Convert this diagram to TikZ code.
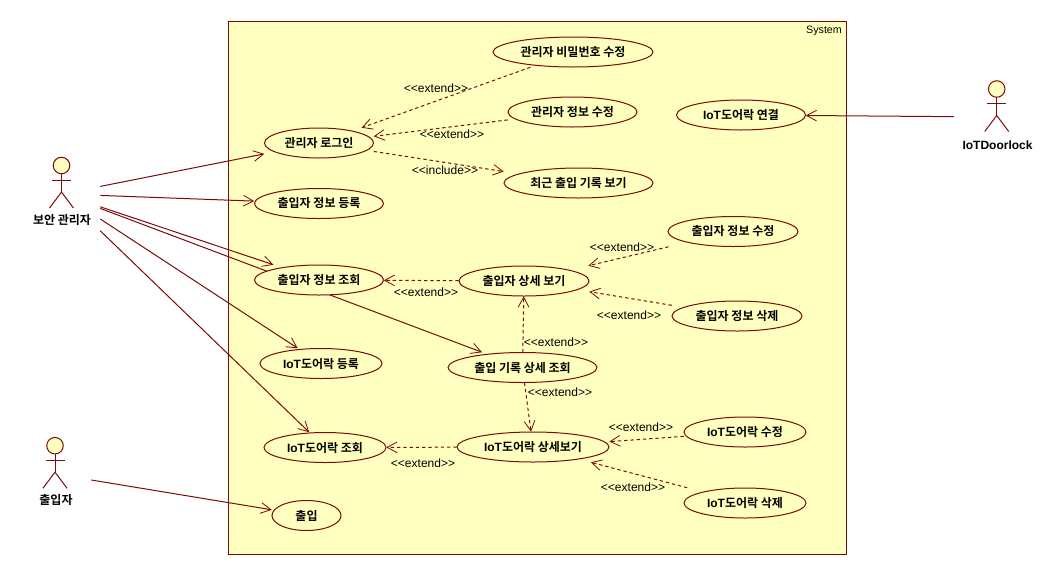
\documentclass[tikz,border=0pt]{standalone}
\usepackage{fontspec}
\setmainfont{Liberation Sans}
\newfontfamily\kr{Noto Sans CJK KR}[BoldFont={Noto Sans CJK KR Bold}]
\usetikzlibrary{shapes.geometric,arrows.meta,backgrounds}
\definecolor{umlline}{HTML}{7B0A0A}
\definecolor{umlfill}{HTML}{FFFFBF}
\newcommand{\K}[1]{{\kr\bfseries #1}}
\tikzset{
  usecase/.style={ellipse,draw=umlline,fill=umlfill,line width=.75pt,inner sep=0pt,minimum height=22.5pt,font=\fontsize{9pt}{11pt}\bfseries},
  caseport/.style={rectangle,inner sep=0pt,minimum height=22.5pt},
  sysbox/.style={rectangle,draw=umlline,fill=umlfill,line width=.75pt,inner sep=0pt,minimum width=463.5pt,minimum height=399.75pt},
  actorport/.style={rectangle,inner sep=0pt,minimum height=90pt},
  actorlabel/.style={font=\fontsize{9pt}{11pt}\bfseries,inner sep=0pt},
  stereo/.style={font=\fontsize{9pt}{11pt}\selectfont,inner sep=0pt},
  tiplabel/.style={font=\fontsize{8pt}{10pt}\selectfont,inner sep=0pt},
  assoc/.style={draw=umlline,line width=.75pt,-{Straight Barb[length=7.5pt,width=8pt,line width=.6pt]}},
  dep/.style={assoc,dash pattern=on 2.5pt off 2.2pt},
  actorline/.style={draw=umlline,line width=.75pt},
  actorhead/.style={draw=umlline,fill=umlfill,line width=.75pt},
}
\newcommand{\actorfig}[2]{%
  \draw[actorhead] (#1,#2) circle (6.2pt);
  \draw[actorline] (#1,#2+8.3) -- (#1,#2+26.5);
  \draw[actorline] (#1-9.5,#2+14.5) -- (#1+9.5,#2+14.5);
  \draw[actorline] (#1-12,#2+42.5) -- (#1,#2+26.5) -- (#1+12,#2+42.5);
}
% name, x, y, width in pt, text: drawn ellipse plus the invisible box connectors end on
\newcommand{\usecasenode}[5]{%
  \node[usecase,minimum width=#4] (#1-shape) at (#2,#3) {#5};
  \node[caseport,minimum width=#4] (#1) at (#2,#3) {};
}
\begin{document}
\begin{tikzpicture}[x=0.75pt,y=-0.75pt]
\useasboundingbox (0,0) rectangle (1062,575);

% use cases
\usecasenode{pw}{573}{52}{120pt}{\K{관리자 비밀번호 수정}}
\usecasenode{adminedit}{572.5}{112}{96.75pt}{\K{관리자 정보 수정}}
\usecasenode{recent}{578.5}{183}{111.75pt}{\K{최근 출입 기록 보기}}
\usecasenode{login}{319}{143}{81.75pt}{\K{관리자 로그인}}
\usecasenode{reg}{319}{203.5}{96.75pt}{\K{출입자 정보 등록}}
\usecasenode{query}{319}{280}{96.75pt}{\K{출입자 정보 조회}}
\usecasenode{iotreg}{321}{363.5}{91.5pt}{IoT\K{도어락 등록}}
\usecasenode{iotconn}{741}{115}{96.75pt}{IoT\K{도어락 연결}}
\usecasenode{detail}{524}{281}{97.5pt}{\K{출입자 상세 보기}}
\usecasenode{edit}{733}{231.5}{97.5pt}{\K{출입자 정보 수정}}
\usecasenode{del}{737}{316}{97.5pt}{\K{출입자 정보 삭제}}
\usecasenode{record}{522.5}{367.5}{111.75pt}{\K{출입 기록 상세 조회}}
\usecasenode{iotdetail}{533}{447}{114pt}{IoT\K{도어락 상세보기}}
\usecasenode{iotedit}{745}{432}{91.5pt}{IoT\K{도어락 수정}}
\usecasenode{iotdel}{745}{503}{91.5pt}{IoT\K{도어락 삭제}}
\usecasenode{iotquery}{325}{447.5}{91.5pt}{IoT\K{도어락 조회}}
\usecasenode{enter}{306.5}{515.5}{51.75pt}{\K{출입}}

% actors
\actorfig{61.5}{165.5}
\actorfig{55}{445.7}
\actorfig{996.7}{89}
\node[actorlabel] (guardlabel) at (62,220) {\K{보안 관리자}};
\node[actorlabel] (visitorlabel) at (56,500) {\K{출입자}};
\node[actorlabel] (doorlabel) at (997.5,145) {IoTDoorlock};
\node[actorport,minimum width=57pt] (guard) at (62,194) {};
\node[actorport,minimum width=54pt] (visitor) at (55,474) {};
\node[actorport,minimum width=64.5pt] (door) at (997,117) {};

% system label and stereotypes
\node[tiplabel] (systemlabel) at (824,31) {System};
\node[stereo] (l1) at (436,88) {<{}<extend>{}>};
\node[stereo] (l2) at (452,134) {<{}<extend>{}>};
\node[stereo] (l3) at (445,170) {<{}<include>{}>};
\node[stereo] (l4) at (622,247) {<{}<extend>{}>};
\node[stereo] (l5) at (426,292) {<{}<extend>{}>};
\node[stereo] (l6) at (629,315) {<{}<extend>{}>};
\node[stereo] (l7) at (556,342) {<{}<extend>{}>};
\node[stereo] (l8) at (560,392) {<{}<extend>{}>};
\node[stereo] (l9) at (641,427) {<{}<extend>{}>};
\node[stereo] (l10) at (423,463) {<{}<extend>{}>};
\node[stereo] (l11) at (633,487) {<{}<extend>{}>};

\begin{pgfonlayer}{background}
\node[sysbox] (system) at (537,287.5) {};
\draw[assoc] (guard) -- (login);
\draw[assoc] (guard) -- (reg);
\draw[assoc] (guard) -- (query);
\draw[assoc] (guard) -- (record);
\draw[assoc] (guard) -- (iotreg);
\draw[assoc] (guard) -- (iotquery);
\draw[assoc] (visitor) -- (enter);
\draw[assoc] (door) -- (iotconn);
\draw[dep] (pw) -- (login);
\draw[dep] (adminedit) -- (login);
\draw[dep] (login) -- (recent);
\draw[dep] (edit) -- (detail);
\draw[dep] (del) -- (detail);
\draw[dep] (detail) -- (query);
\draw[dep] (record) -- (detail);
\draw[dep] (record) -- (iotdetail);
\draw[dep] (iotedit) -- (iotdetail);
\draw[dep] (iotdel) -- (iotdetail);
\draw[dep] (iotdetail) -- (iotquery);
\end{pgfonlayer}
\end{tikzpicture}
\end{document}
